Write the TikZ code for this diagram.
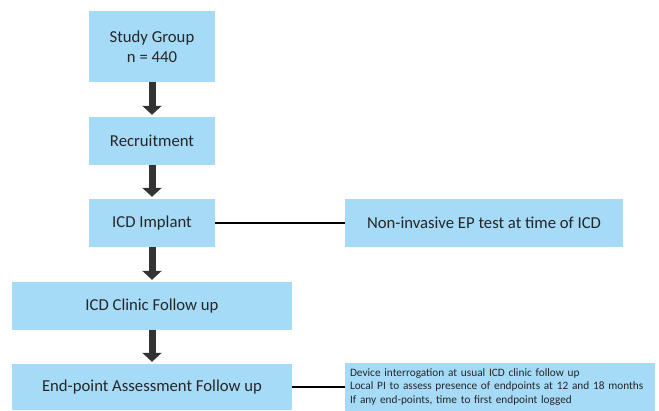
\documentclass[tikz,border=0pt]{standalone}
\usepackage{fontspec}
\setmainfont{Carlito}
\usetikzlibrary{arrows.meta}

\begin{document}
\begin{tikzpicture}[x=1bp, y=-1bp]
  %tikz%
  % Study flow chart
  %tikz%
    \definecolor{boxblue}{RGB}{166,219,248}
    \definecolor{arrowgray}{RGB}{51,51,51}
    \tikzset{etape/.style={fill=boxblue, inner sep=0pt, minimum height=48bp,
                           text=black!85, align=center, font=\fontsize{16.7bp}{20bp}\selectfont},
             fleche/.style={draw=arrowgray, line width=7bp, -{Triangle[width=19bp, length=9bp]}},
             lien/.style={draw=black, line width=1.4bp}}

    \useasboundingbox (0,0) rectangle (659,410);

    \node[etape, minimum width=126bp, minimum height=71bp] (groupe) at (152,46.5) {Study Group\\n = 440};
    \node[etape, minimum width=126bp] (recrut) at (152,141) {Recruitment};
    \node[etape, minimum width=126bp] (implant) at (152,223) {ICD Implant};
    \node[etape, minimum width=278bp] (test) at (484,223) {Non-invasive EP test at time of ICD};
    \node[etape, minimum width=279bp] (clinique) at (152,306) {ICD Clinic Follow up};
    \node[etape, minimum width=279bp, minimum height=46bp] (evaluation) at (152,387) {End-point Assessment Follow up};
    \node[etape, minimum width=310bp, minimum height=48bp, align=left, text width=300bp,
          font=\fontsize{11.3bp}{13.6bp}\selectfont] (detail) at (500,387)
      {\strut Device interrogation at usual ICD clinic follow up\\
       \strut Local PI to assess presence of endpoints at 12 and 18 months\\
       \strut If any end-points, time to first endpoint logged};

    % fleches
    \foreach \a/\b in {groupe/recrut, recrut/implant, implant/clinique, clinique/evaluation}{
      \draw[fleche] (\a.south) -- ([yshift=2bp]\b.north);
    }

    \draw[lien] (implant.east) -- (test.west);
    \draw[lien] (evaluation.east) -- (detail.west);

  \end{tikzpicture}
\end{document}
